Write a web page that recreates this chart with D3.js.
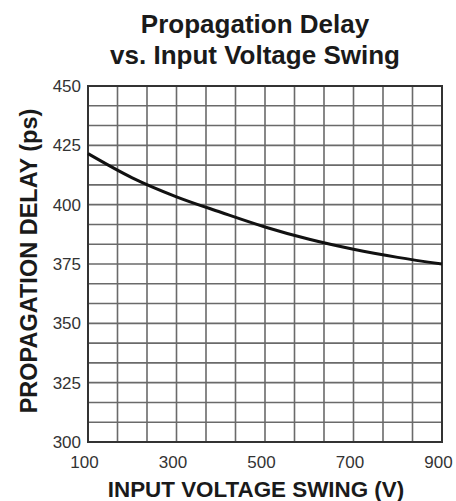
<!DOCTYPE html>
<html>
<head>
<meta charset="utf-8">
<title>Propagation Delay vs. Input Voltage Swing</title>
<script src="https://d3js.org/d3.v7.min.js"></script>
<style>
  body { margin: 0; background: #fff; }
  svg { display: block; font-family: 'Liberation Sans', Arial, sans-serif; }
  .title { font-size: 26px; font-weight: bold; fill: #1a1a1a; text-anchor: middle; }
  .axis-title { font-weight: bold; fill: #1a1a1a; text-anchor: middle; }
  .tick text { font-size: 17px; fill: #333; }
  .grid line { stroke: #6a6a6a; stroke-width: 1.6; }
</style>
</head>
<body>
<div id="chart"></div>
<script>
// data
var swing = [100, 200, 300, 400, 500, 600, 700, 800, 900];          // V
var delay = [421.5, 411.3, 403.3, 396.8, 390.6, 385.4, 381.2, 377.8, 375.0]; // ps
var xTicks = [100, 300, 500, 700, 900];
var yTicks = [300, 325, 350, 375, 400, 425, 450];
var titleLines = ["Propagation Delay", "vs. Input Voltage Swing"];

var width = 456, height = 501;
var margin = {top: 86, right: 14, bottom: 59, left: 88};

var svg = d3.select("#chart").append("svg")
  .attr("width", width)
  .attr("height", height);

var x = d3.scaleLinear().domain([100, 900]).range([margin.left, width - margin.right]);
var y = d3.scaleLinear().domain([300, 450]).range([height - margin.bottom, margin.top]);

// grid: 12 vertical divisions, 18 horizontal divisions
var xGrid = d3.range(0, 13).map(function(i) { return 100 + i * 800 / 12; });
var yGrid = d3.range(0, 19).map(function(i) { return 300 + i * 150 / 18; });

var grid = svg.append("g").attr("class", "grid");
grid.selectAll(".vx").data(xGrid).enter().append("line")
  .attr("x1", function(d) { return x(d); })
  .attr("x2", function(d) { return x(d); })
  .attr("y1", y(300)).attr("y2", y(450));
grid.selectAll(".hy").data(yGrid).enter().append("line")
  .attr("x1", x(100)).attr("x2", x(900))
  .attr("y1", function(d) { return y(d); })
  .attr("y2", function(d) { return y(d); });

// frame
svg.append("rect")
  .attr("x", x(100)).attr("y", y(450))
  .attr("width", x(900) - x(100))
  .attr("height", y(300) - y(450))
  .attr("fill", "none")
  .attr("stroke", "#333")
  .attr("stroke-width", 2);

// axes (labels only)
var xAxis = svg.append("g")
  .attr("transform", "translate(0," + y(300) + ")")
  .call(d3.axisBottom(x).tickValues(xTicks).tickSize(0).tickPadding(14));
xAxis.select(".domain").remove();
xAxis.selectAll("text").attr("dx", "-4");

var yAxis = svg.append("g")
  .attr("transform", "translate(" + x(100) + ",0)")
  .call(d3.axisLeft(y).tickValues(yTicks).tickSize(0).tickPadding(7));
yAxis.select(".domain").remove();

// curve
var line = d3.line()
  .x(function(d, i) { return x(swing[i]); })
  .y(function(d) { return y(d); })
  .curve(d3.curveMonotoneX);

svg.append("path")
  .datum(delay)
  .attr("d", line)
  .attr("fill", "none")
  .attr("stroke", "#111")
  .attr("stroke-width", 3);

// titles
svg.selectAll(".title").data(titleLines).enter().append("text")
  .attr("class", "title")
  .attr("x", 255)
  .attr("y", function(d, i) { return 33 + i * 31; })
  .text(function(d) { return d; });

svg.append("text")
  .attr("class", "axis-title")
  .attr("x", 256)
  .attr("y", 497)
  .style("font-size", "22.4px")
  .text("INPUT VOLTAGE SWING (V)");

svg.append("text")
  .attr("class", "axis-title")
  .attr("transform", "translate(37,261) rotate(-90)")
  .style("font-size", "23.5px")
  .text("PROPAGATION DELAY (ps)");
</script>
</body>
</html>
